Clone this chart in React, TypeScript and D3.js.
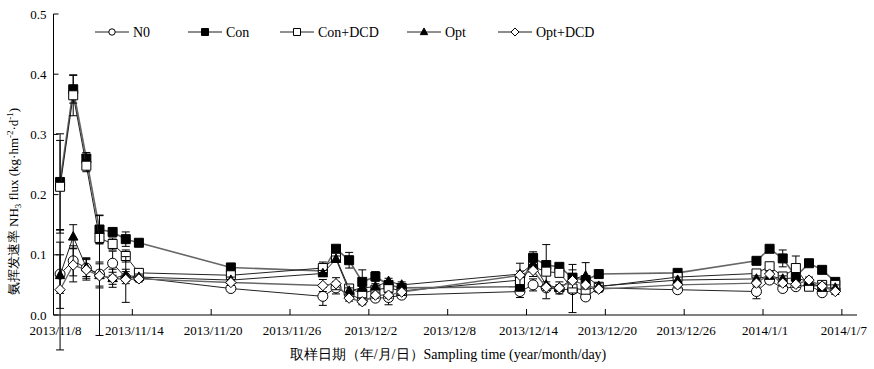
import { useMemo } from 'react';
import * as d3 from 'd3';

// sampling times (sampled around noon)
const sampleTimes = [
  '2013/11/8 12', '2013/11/9 12', '2013/11/10 12', '2013/11/11 12', '2013/11/12 12',
  '2013/11/13 12', '2013/11/14 12', '2013/11/21 12', '2013/11/28 12', '2013/11/29 12',
  '2013/11/30 12', '2013/12/1 12', '2013/12/2 12', '2013/12/3 12', '2013/12/4 12',
  '2013/12/13 12', '2013/12/14 12', '2013/12/15 12', '2013/12/16 12', '2013/12/17 12',
  '2013/12/18 12', '2013/12/19 12', '2013/12/25 12', '2013/12/31 12', '2014/1/1 12',
  '2014/1/2 12', '2014/1/3 12', '2014/1/4 12', '2014/1/5 12', '2014/1/6 12',
];

const xTickLabels = [
  '2013/11/8', '2013/11/14', '2013/11/20', '2013/11/26', '2013/12/2', '2013/12/8',
  '2013/12/14', '2013/12/20', '2013/12/26', '2014/1/1', '2014/1/7',
];
const yTicks = [0, 0.1, 0.2, 0.3, 0.4, 0.5];

const n0 = [
  0.068, 0.09, 0.078, 0.068, 0.086, 0.062, 0.062, 0.044, 0.031, 0.045,
  0.035, 0.025, 0.028, 0.029, 0.033, 0.039, 0.05, 0.045, 0.043, 0.042,
  0.03, 0.045, 0.042, 0.039, 0.058, 0.044, 0.047, 0.05, 0.037, 0.042,
];
const n0Err = [
  0.032, 0.025, 0.017, 0.02, 0.02, 0.01, 0.005, 0.005, 0.015, 0.01,
  0.005, 0.005, 0.005, 0.012, 0.005, 0.01, 0.01, 0.005, 0.005, 0.005,
  0.005, 0.005, 0.005, 0.012, 0.005, 0.005, 0.005, 0.005, 0.005, 0.005,
];
const con = [
  0.221, 0.375, 0.26, 0.142, 0.138, 0.126, 0.12, 0.079, 0.073, 0.11,
  0.091, 0.055, 0.064, 0.05, 0.045, 0.047, 0.095, 0.083, 0.08, 0.062,
  0.058, 0.068, 0.07, 0.09, 0.11, 0.094, 0.064, 0.086, 0.075, 0.055,
];
const conErr = [
  0.08, 0.023, 0.01, 0.023, 0.005, 0.012, 0.005, 0.005, 0.005, 0.005,
  0.013, 0.02, 0.008, 0.005, 0.005, 0.005, 0.01, 0.005, 0.005, 0.013,
  0.005, 0.005, 0.005, 0.005, 0.005, 0.014, 0.005, 0.005, 0.005, 0.005,
];
const conDcd = [
  0.213, 0.365, 0.248, 0.128, 0.118, 0.098, 0.07, 0.066, 0.078, 0.095,
  0.044, 0.036, 0.042, 0.045, 0.04, 0.058, 0.08, 0.072, 0.07, 0.044,
  0.042, 0.047, 0.063, 0.069, 0.081, 0.064, 0.078, 0.047, 0.05, 0.05,
];
const conDcdErr = [
  0.077, 0.034, 0.01, 0.01, 0.01, 0.01, 0.005, 0.005, 0.01, 0.005,
  0.005, 0.005, 0.005, 0.005, 0.005, 0.005, 0.005, 0.045, 0.005, 0.04,
  0.005, 0.005, 0.005, 0.005, 0.005, 0.005, 0.02, 0.005, 0.005, 0.005,
];
const opt = [
  0.066, 0.13, 0.079, 0.066, 0.061, 0.066, 0.063, 0.058, 0.069, 0.093,
  0.04, 0.045, 0.047, 0.056, 0.05, 0.068, 0.085, 0.05, 0.045, 0.06,
  0.065, 0.048, 0.058, 0.06, 0.065, 0.06, 0.062, 0.055, 0.045, 0.045,
];
const optErr = [
  0.055, 0.02, 0.015, 0.1, 0.015, 0.01, 0.005, 0.005, 0.005, 0.005,
  0.005, 0.005, 0.005, 0.005, 0.005, 0.005, 0.005, 0.005, 0.005, 0.005,
  0.022, 0.005, 0.005, 0.005, 0.005, 0.005, 0.005, 0.005, 0.005, 0.005,
];
const optDcd = [
  0.042, 0.083, 0.075, 0.065, 0.061, 0.059, 0.06, 0.054, 0.049, 0.052,
  0.028, 0.022, 0.033, 0.033, 0.038, 0.066, 0.074, 0.046, 0.045, 0.057,
  0.05, 0.043, 0.05, 0.053, 0.068, 0.053, 0.051, 0.058, 0.048, 0.039,
];
const optDcdErr = [
  0.1, 0.028, 0.017, 0.02, 0.01, 0.038, 0.005, 0.005, 0.01, 0.01,
  0.005, 0.005, 0.005, 0.005, 0.005, 0.02, 0.01, 0.005, 0.01, 0.012,
  0.005, 0.005, 0.005, 0.005, 0.005, 0.005, 0.005, 0.005, 0.005, 0.005,
];

type Shape = 'circle' | 'square' | 'triangle' | 'diamond';
type Series = {
  name: string;
  values: number[];
  errors: number[];
  shape: Shape;
  filled: boolean;
  line: string;
  lineWidth: number;
};

const series: Series[] = [
  { name: 'N0', values: n0, errors: n0Err, shape: 'circle', filled: false, line: '#222', lineWidth: 1 },
  { name: 'Con', values: con, errors: conErr, shape: 'square', filled: true, line: '#666', lineWidth: 1.6 },
  { name: 'Con+DCD', values: conDcd, errors: conDcdErr, shape: 'square', filled: false, line: '#222', lineWidth: 1 },
  { name: 'Opt', values: opt, errors: optErr, shape: 'triangle', filled: true, line: '#222', lineWidth: 1 },
  { name: 'Opt+DCD', values: optDcd, errors: optDcdErr, shape: 'diamond', filled: false, line: '#666', lineWidth: 1.4 },
];

const legendX = [95, 188, 280, 407, 498];

const FONT = "'Liberation Serif', 'Times New Roman', serif";

function markerPath(shape: Shape, r: number): string {
  switch (shape) {
    case 'circle': {
      const p = d3.path();
      p.arc(0, 0, r, 0, Math.PI * 2);
      return p.toString();
    }
    case 'square':
      return `M${-r},${-r}H${r}V${r}H${-r}Z`;
    case 'triangle':
      return `M0,${-r * 1.15}L${r * 1.05},${r * 0.75}H${-r * 1.05}Z`;
    case 'diamond':
      return `M0,${-r * 1.15}L${r * 1.15},0L0,${r * 1.15}L${-r * 1.15},0Z`;
  }
}

export default function App(): React.ReactNode {
  const width = 874;
  const height = 369;
  const plot = { left: 53.5, right: 855, top: 14, bottom: 315 };

  const { x, y, times, ticks } = useMemo(() => {
    const parseT = d3.timeParse('%Y/%m/%d %H');
    const parseD = d3.timeParse('%Y/%m/%d');
    const times = sampleTimes.map((s) => parseT(s) as Date);
    const ticks = xTickLabels.map((s) => ({ label: s, date: parseD(s) as Date }));
    const start = ticks[0].date;
    const end = d3.timeDay.offset(start, 61);
    const x = d3.scaleTime().domain([start, end]).range([plot.left, plot.right]);
    const y = d3.scaleLinear().domain([0, 0.5]).range([plot.bottom, plot.top]);
    return { x, y, times, ticks };
  }, [plot.left, plot.right, plot.top, plot.bottom]);

  const line = d3
    .line<number>()
    .x((_, i) => x(times[i]))
    .y((d) => y(d));

  const fmt = d3.format('.1f');

  return (
    <svg
      width={width}
      height={height}
      style={{ position: 'absolute', left: 0, top: 0, background: '#fff', fontFamily: FONT }}
    >
      <rect width={width} height={height} fill="#fff" />

      {/* series */}
      {series.map((s) => (
        <g key={s.name}>
          <path d={line(s.values) ?? ''} fill="none" stroke={s.line} strokeWidth={s.lineWidth} />
          {s.values.map((v, i) => {
            const cx = x(times[i]);
            const e = s.errors[i];
            const y1 = y(v + e);
            const y2 = y(v - e);
            return (
              <g key={i} stroke="#000" strokeWidth={1}>
                <line x1={cx} x2={cx} y1={y1} y2={y2} />
                <line x1={cx - 4} x2={cx + 4} y1={y1} y2={y1} />
                <line x1={cx - 4} x2={cx + 4} y1={y2} y2={y2} />
              </g>
            );
          })}
          {s.values.map((v, i) => (
            <path
              key={i}
              d={markerPath(s.shape, s.shape === 'circle' ? 5 : 4.5)}
              transform={`translate(${x(times[i])},${y(v)})`}
              fill={s.filled ? '#000' : '#fff'}
              stroke="#000"
              strokeWidth={1}
            />
          ))}
        </g>
      ))}

      {/* axes */}
      <line x1={plot.left} x2={plot.left} y1={plot.top} y2={plot.bottom} stroke="#000" />
      <line x1={plot.left} x2={plot.right + 2} y1={plot.bottom} y2={plot.bottom} stroke="#000" />
      {yTicks.map((t) => (
        <g key={t}>
          <line x1={plot.left} x2={plot.left + 5} y1={y(t)} y2={y(t)} stroke="#000" />
          <text x={plot.left - 7} y={y(t)} dy="0.35em" textAnchor="end" fontSize={13}>
            {fmt(t)}
          </text>
        </g>
      ))}
      {ticks.map((t) => (
        <g key={t.label}>
          <line x1={x(t.date)} x2={x(t.date)} y1={plot.bottom} y2={plot.bottom - 6} stroke="#000" />
          <text x={x(t.date) + 2} y={plot.bottom + 20} textAnchor="middle" fontSize={13}>
            {t.label}
          </text>
        </g>
      ))}

      {/* axis titles */}
      <text x={448} y={359} textAnchor="middle" fontSize={14}>
        取样日期（年/月/日）Sampling time (year/month/day)
      </text>
      <text
        transform={`translate(18,${(plot.top + plot.bottom) / 2 + 37}) rotate(-90)`}
        textAnchor="middle"
        fontSize={13}
      >
        氨挥发速率 NH
        <tspan fontSize={9} dy={3}>3</tspan>
        <tspan dy={-3}> flux (kg·hm</tspan>
        <tspan fontSize={9} dy={-5}>-2</tspan>
        <tspan dy={5}>·d</tspan>
        <tspan fontSize={9} dy={-5}>-1</tspan>
        <tspan dy={5}>)</tspan>
      </text>

      {/* legend */}
      {series.map((s, i) => {
        const lx = legendX[i];
        const ly = 32;
        return (
          <g key={s.name}>
            <line x1={lx} x2={lx + 34} y1={ly} y2={ly} stroke={s.line} strokeWidth={s.lineWidth} />
            <path
              d={markerPath(s.shape, s.shape === 'circle' ? 3.2 : 3.5)}
              transform={`translate(${lx + 17},${ly})`}
              fill={s.filled ? '#000' : '#fff'}
              stroke="#000"
              strokeWidth={1}
            />
            <text x={lx + 38} y={ly} dy="0.35em" fontSize={14}>
              {s.name}
            </text>
          </g>
        );
      })}
    </svg>
  );
}
